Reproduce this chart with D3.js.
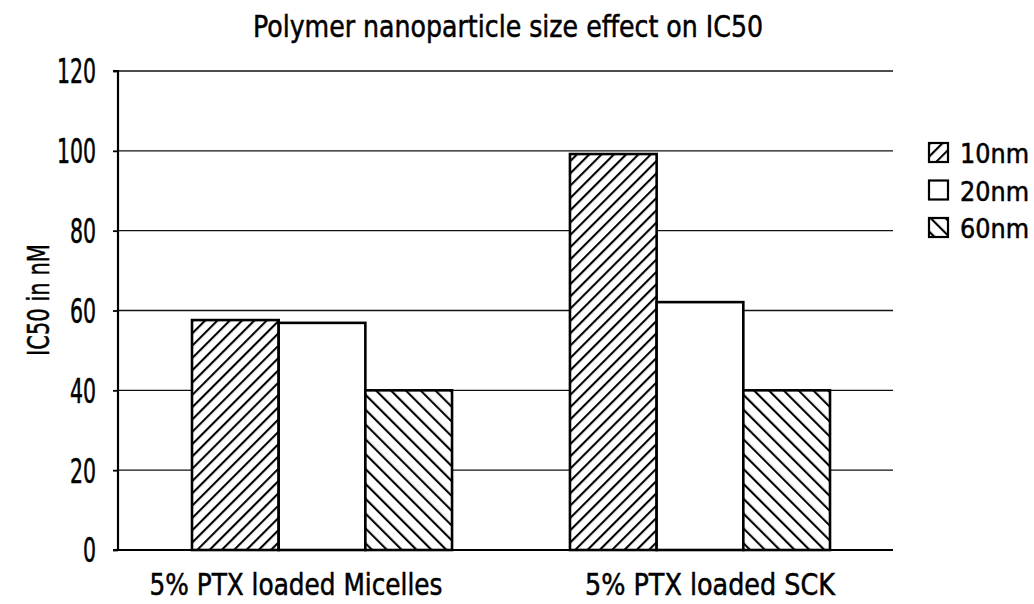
<!DOCTYPE html>
<html><head><meta charset="utf-8">
<script src="https://cdn.jsdelivr.net/npm/d3@7"></script>
<style>body{margin:0;background:#fff} text{stroke:#000;stroke-width:0.5px;fill:#000}</style>
</head><body>
<script>
const categories = ["5% PTX loaded Micelles", "5% PTX loaded SCK"];
const seriesNames = ["10nm", "20nm", "60nm"];
const values10 = [57.6, 99.2];
const values20 = [56.9, 62.1];
const values60 = [40, 40];
const yTicks = [0, 20, 40, 60, 80, 100, 120];
const title = "Polymer nanoparticle size effect on IC50";
const yLabel = "IC50 in nM";

const W = 1034, H = 604;
const svg = d3.select("body").append("svg").attr("width", W).attr("height", H)
  .style("font-family", "'DejaVu Sans Condensed','DejaVu Sans',sans-serif");

const plotL = 118, plotR = 893, plotTop = 71, plotBottom = 550;
const y = d3.scaleLinear().domain([0, 120]).range([plotBottom, plotTop]);
const x0 = d3.scaleBand().domain(categories).range([192, 830]).paddingInner(0.312).paddingOuter(0);
const x1 = d3.scaleBand().domain(seriesNames).range([0, x0.bandwidth()]);

const defs = svg.append("defs");
function hatch(id, size, angle) {
  const p = defs.append("pattern").attr("id", id).attr("patternUnits", "userSpaceOnUse")
    .attr("width", size).attr("height", size).attr("patternTransform", `rotate(${angle})`);
  p.append("rect").attr("width", size).attr("height", size).attr("fill", "#fff");
  p.append("line").attr("x1", 1).attr("y1", 0).attr("x2", 1).attr("y2", size)
    .attr("stroke", "#000").attr("stroke-width", 2.2);
}
hatch("h10", 8.7, 45);
hatch("h60", 10.5, -45);
const fills = {"10nm": "url(#h10)", "20nm": "#fff", "60nm": "url(#h60)"};

// gridlines
svg.append("g").selectAll("line").data(yTicks.filter(d => d > 0)).join("line")
  .attr("x1", plotL).attr("x2", plotR).attr("y1", d => y(d)).attr("y2", d => y(d))
  .attr("stroke", "#111").attr("stroke-width", 1.4);

// bars
const data = categories.map((c, i) => ({cat: c, vals: [
  {s: "10nm", v: values10[i]}, {s: "20nm", v: values20[i]}, {s: "60nm", v: values60[i]}]}));
const g = svg.append("g");
g.selectAll("g").data(data).join("g")
  .attr("transform", d => `translate(${x0(d.cat)},0)`)
  .selectAll("rect").data(d => d.vals).join("rect")
  .attr("x", d => x1(d.s)).attr("width", x1.bandwidth())
  .attr("y", d => y(d.v)).attr("height", d => y(0) - y(d.v))
  .attr("fill", d => fills[d.s]).attr("stroke", "#000").attr("stroke-width", 2.6);

// x baseline
svg.append("line").attr("x1", plotL).attr("x2", plotR).attr("y1", y(0)).attr("y2", y(0))
  .attr("stroke", "#000").attr("stroke-width", 2.2);

// y axis
const ya = svg.append("g").attr("transform", `translate(${plotL},0)`)
  .call(d3.axisLeft(y).tickValues(yTicks).tickSize(5).tickPadding(17).tickFormat(d3.format("d")));
ya.select(".domain").attr("stroke-width", 2.2).attr("d", `M-5,${y(120)}H0V${y(0)}H-5`);
ya.selectAll(".tick line").attr("stroke-width", 1.8);
ya.selectAll(".tick text").attr("font-size", 33).attr("dy", "0.36em")
  .attr("font-family", "'DejaVu Sans Condensed','DejaVu Sans',sans-serif")
  .attr("textLength", d => String(d).length * 13).attr("lengthAdjust", "spacingAndGlyphs");

// x labels
const labelDx = [-26, 10];
const labelW = [293, 250];
svg.append("g").selectAll("text").data(categories).join("text")
  .attr("x", (d, i) => x0(d) + x0.bandwidth() / 2 + labelDx[i]).attr("y", 595)
  .attr("text-anchor", "middle").attr("font-size", 30)
  .attr("textLength", (d, i) => labelW[i]).attr("lengthAdjust", "spacingAndGlyphs")
  .text(d => d);

// title
svg.append("text").attr("x", 508).attr("y", 37).attr("text-anchor", "middle")
  .attr("font-size", 31).attr("textLength", 510).attr("lengthAdjust", "spacingAndGlyphs")
  .text(title);

// y label
svg.append("text").attr("transform", "translate(49,300) rotate(-90)")
  .attr("text-anchor", "middle").attr("font-size", 30)
  .attr("textLength", 112).attr("lengthAdjust", "spacingAndGlyphs").text(yLabel);

// legend
const leg = svg.append("g").selectAll("g").data(seriesNames).join("g")
  .attr("transform", (d, i) => `translate(929,${143 + i * 37.5})`);
leg.append("rect").attr("width", 19).attr("height", 19)
  .attr("fill", d => fills[d]).attr("stroke", "#000").attr("stroke-width", 2.2);
leg.append("text").attr("x", 31).attr("y", 20).attr("font-size", 27)
  .attr("textLength", 69).attr("lengthAdjust", "spacingAndGlyphs").text(d => d);
</script>
</body></html>
